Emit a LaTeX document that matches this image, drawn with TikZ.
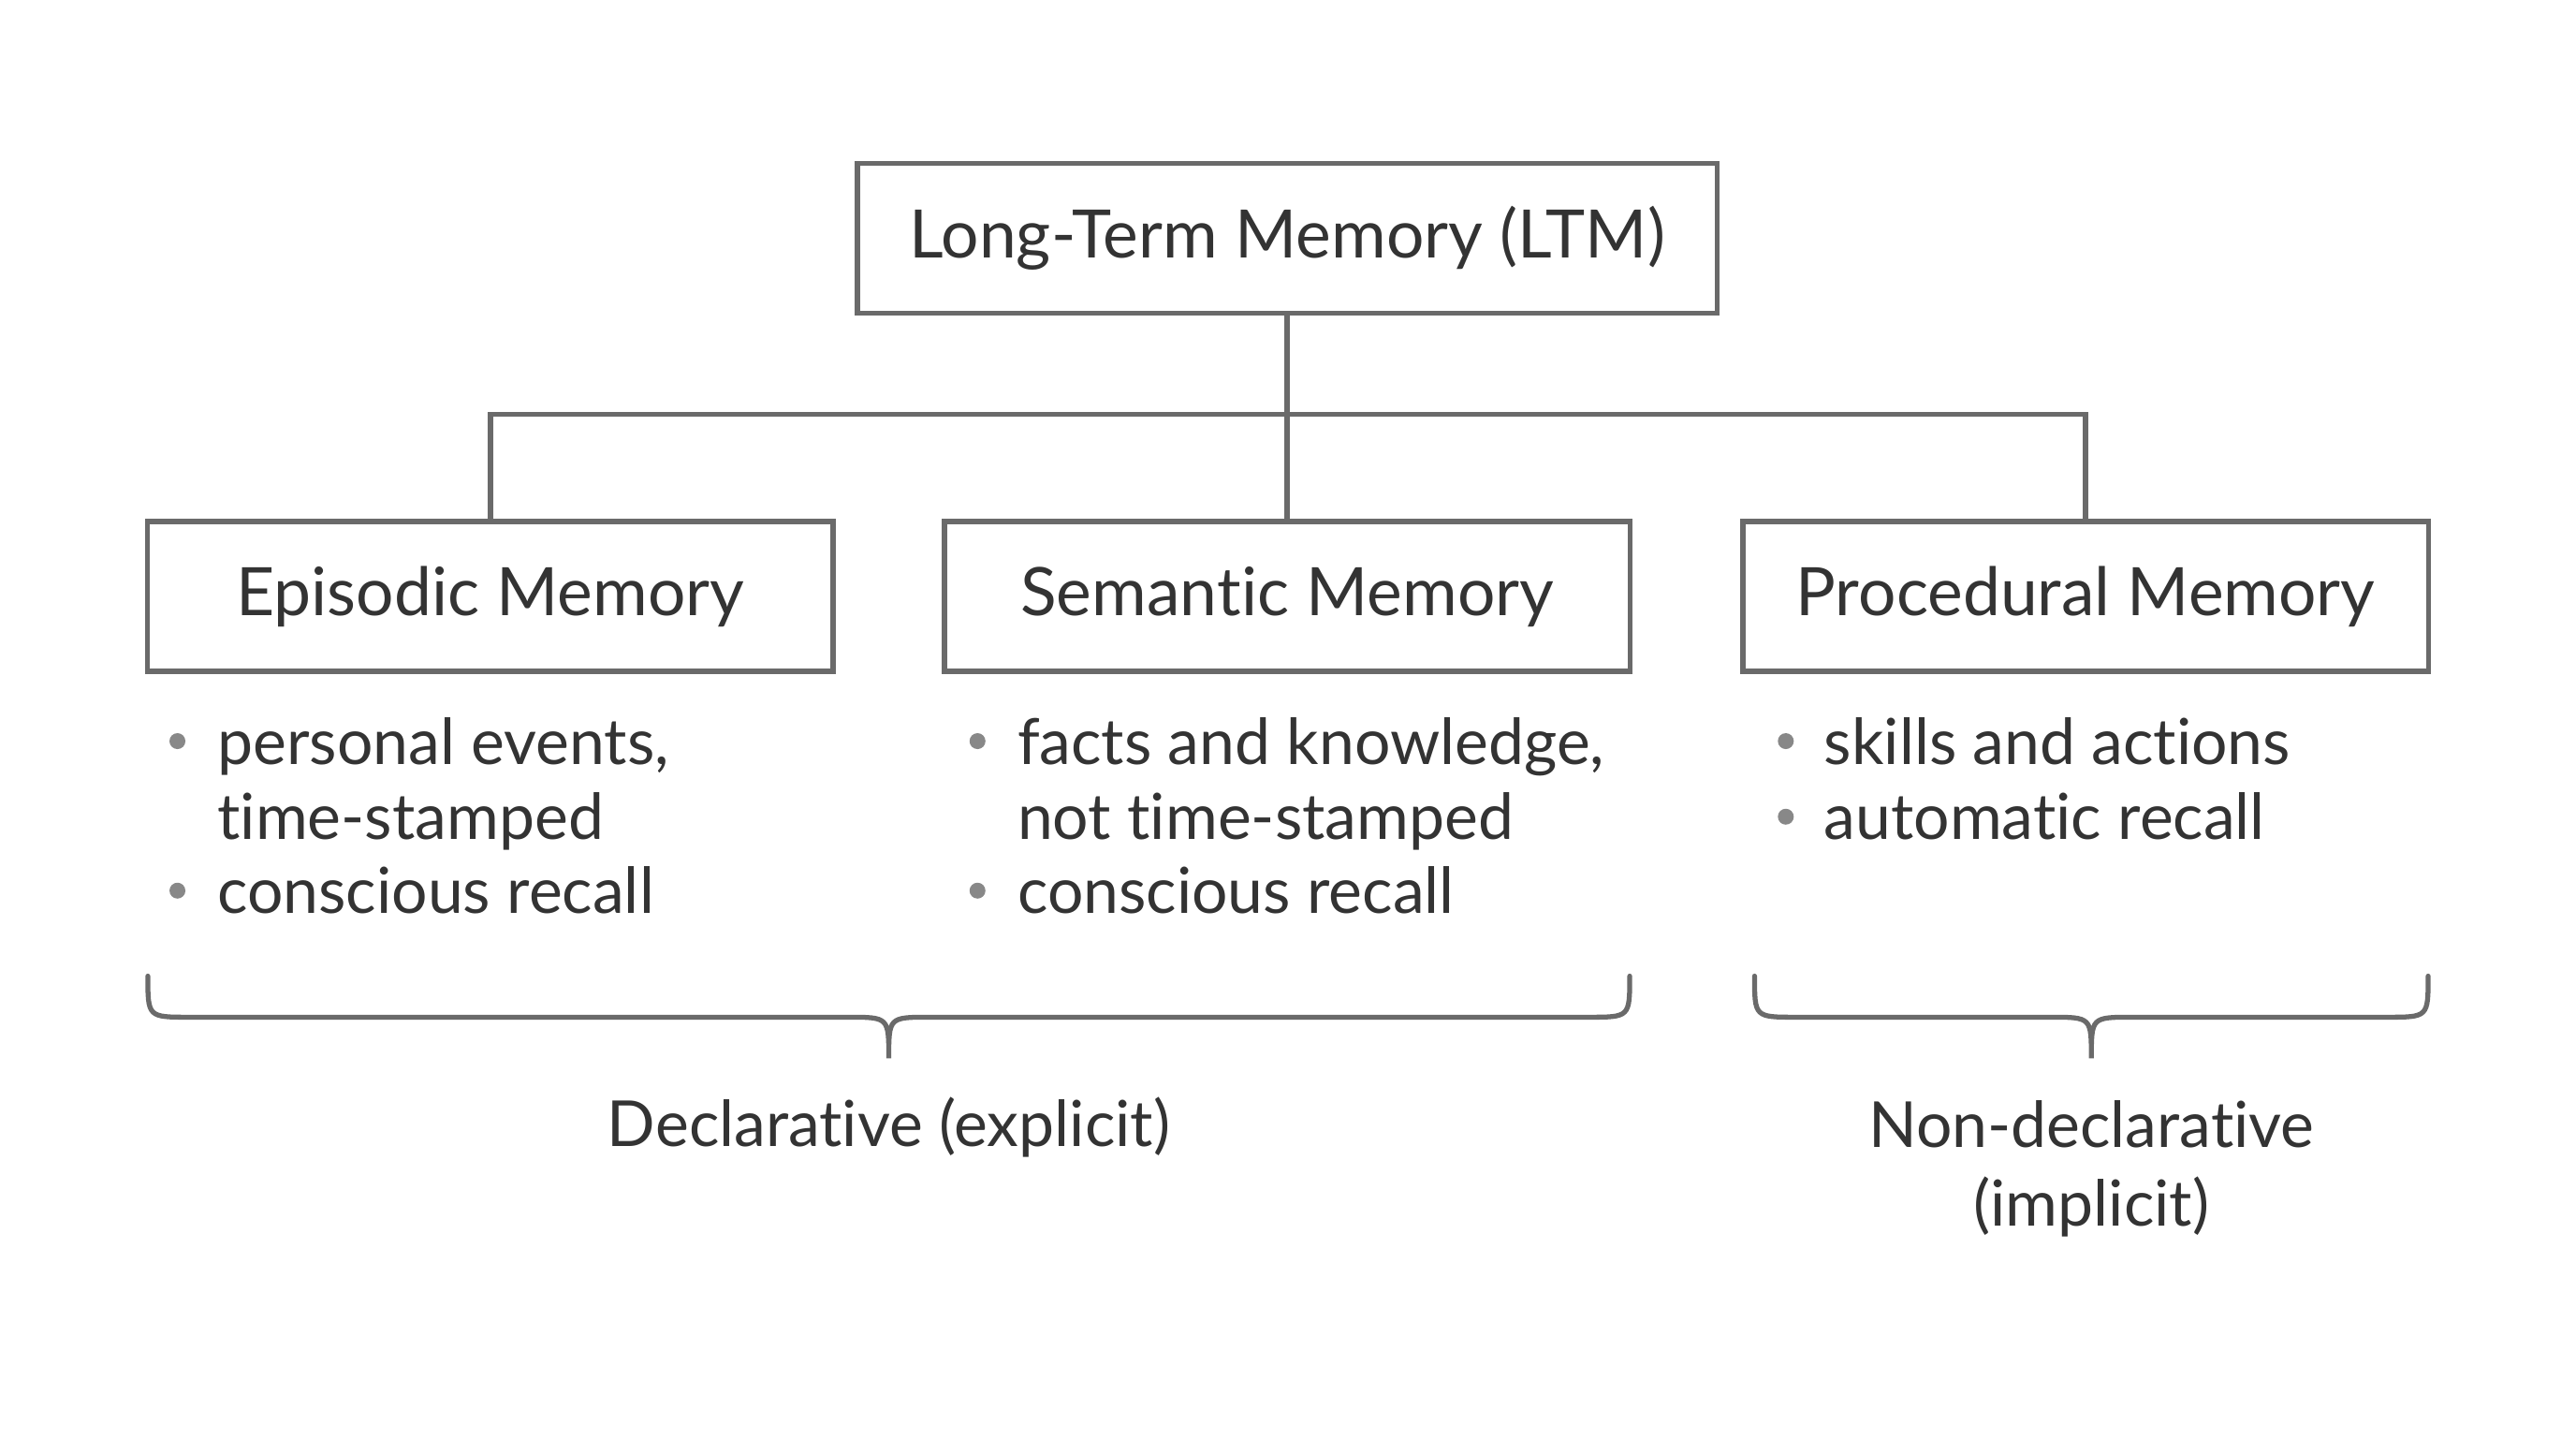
\documentclass[tikz,border=0pt]{standalone}
\usepackage{fontspec}
\setmainfont{Lato}[Ligatures={NoCommon,NoRare}]
\usetikzlibrary{positioning}
\definecolor{linegray}{HTML}{6A6A6A}
\definecolor{textgray}{HTML}{333333}
\newcommand{\nolig}{\kern0pt}
\tikzset{
  membox/.style={rectangle,draw=linegray,line width=1.5pt,fill=white,inner sep=0pt,
    minimum width=7.32cm,minimum height=1.6cm,font=\fontsize{20.3}{24}\selectfont,text=textgray},
  itemline/.style={anchor=base west,inner sep=0pt,font=\fontsize{19.3}{23}\selectfont,text=textgray},
  dot/.style={circle,fill=linegray!80,inner sep=0pt,minimum size=0.17cm},
  wire/.style={draw=linegray,line width=1.5pt},
  grouplabel/.style={align=center,inner sep=0pt,font=\fontsize{19.3}{23}\selectfont,text=textgray}
}
\begin{document}
\begin{tikzpicture}[x=0.01755cm,y=-0.01755cm]
            \useasboundingbox[fill=white] (0,0) rectangle (1568,876);

            % boxes
            \node[membox,minimum width=9.18cm] (ltm) at (783.5,145) {Long-Term Memory (LTM)};
            \node[membox] (epi) at (298.5,363) {Episodic Memory};
            \node[membox] (sem) at (783.5,363) {Seman\nolig tic Memory};
            \node[membox] (pro) at (1269.5,363) {Procedural Memory};

            % tree
            \coordinate (bus) at (783.5,252);
            \path[wire] (ltm.south) -- (bus);
            \path[wire] (bus) -- (sem.north);
            \path[wire] (epi.north) |- (bus) -| (pro.north);

            % items
            \node[dot] (d1) at (108,451) {};
            \node[itemline] (e1) at (132,465) {personal events,};
            \node[itemline] (e2) at (132,511) {t\nolig ime-stamped};
            \node[dot] (d2) at (108,542) {};
            \node[itemline] (e3) at (132,556) {conscious recall};

            \node[dot] (d3) at (595,451) {};
            \node[itemline] (s1) at (619,465) {facts and knowledge,};
            \node[itemline] (s2) at (619,511) {not t\nolig ime-stamped};
            \node[dot] (d4) at (595,542) {};
            \node[itemline] (s3) at (619,556) {conscious recall};

            \node[dot] (d5) at (1087,451) {};
            \node[itemline] (p1) at (1110,465) {skills and act\nolig ions};
            \node[dot] (d6) at (1087,497) {};
            \node[itemline] (p2) at (1110,511) {automat\nolig ic recall};

            % braces
            \path[wire,line cap=round] (90,594) .. controls (90,619) .. (115,619) -- (516,619)
              .. controls (541,619) .. (541,644) .. controls (541,619) .. (566,619) -- (967,619)
              .. controls (992,619) .. (992,594);
            \path[wire,line cap=round] (1068,594) .. controls (1068,619) .. (1093,619) -- (1248,619)
              .. controls (1273,619) .. (1273,644) .. controls (1273,619) .. (1298,619) -- (1453,619)
              .. controls (1478,619) .. (1478,594);

            \node[grouplabel] (decl) at (541,686) {Declarat\nolig ive (explicit)};
            \node[grouplabel,text depth=0pt] (ndecl) at (1273,708) {Non-declarat\nolig ive\\[1pt](implicit)};
\end{tikzpicture}
\end{document}
